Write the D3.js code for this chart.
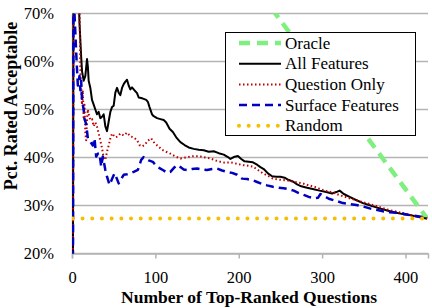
<!DOCTYPE html>
<html>
<head>
<meta charset="utf-8">
<script src="https://cdn.jsdelivr.net/npm/d3@7"></script>
<style>
  body { margin: 0; background: #fff; }
</style>
</head>
<body>
<div id="app"></div>
<script>
const WIDTH = 432;
const HEIGHT = 308;
const FONT = 'Liberation Serif';

// values: [number of questions, pct acceptable]
const oracle = [[0, 100], [116, 100], [426, 27.3]];

const allFeatures = [[1, 0], [2, 100], [7, 86], [8, 74], [9, 68], [11, 61], [12, 58], [14, 56], [16, 57],
  [18, 60.5], [19, 59], [20, 56], [22, 54.5], [24, 52], [26, 51], [28, 50], [30, 49], [32, 49.5],
  [34, 48.2], [36, 48.5], [38, 49], [40, 46.5], [42, 45.5], [44, 47.5], [46, 49.5], [48, 50.5],
  [50, 50.8], [52, 53.5], [54, 54.5], [56, 53.5], [58, 53], [60, 54.5], [62, 55.3], [64, 55.8],
  [66, 56.2], [68, 55], [70, 54.2], [72, 54.6], [75, 54], [78, 53.4], [80, 52.5], [83, 52.4],
  [86, 52.2], [89, 52], [91, 51.6], [93, 50.5], [96, 49], [98, 48.6], [102, 48.2], [106, 48],
  [110, 47.8], [113, 47.3], [117, 46], [121, 45.3], [125, 44.2], [130, 43.2], [135, 42.6],
  [140, 42.1], [146, 41.8], [152, 41.6], [158, 41.5], [164, 41.2], [170, 41.3], [176, 40.9],
  [182, 40.6], [187, 40.1], [190, 39.7], [194, 40.1], [199, 40.3], [203, 39.7], [207, 39.2],
  [212, 39.1], [217, 39], [222, 38.5], [226, 38], [230, 37.6], [235, 36.7], [240, 36.1],
  [245, 36], [250, 36], [255, 35.8], [260, 35.3], [265, 35], [270, 34.4], [275, 34], [282, 33.7],
  [290, 33.4], [297, 33.1], [305, 32.8], [312, 32.5], [317, 32.8], [321, 33.1], [326, 32.4],
  [333, 31.8], [340, 31.2], [349, 30.5], [358, 30], [369, 29.4], [379, 28.9], [389, 28.5],
  [397, 28.2], [405, 28], [413, 27.7], [421, 27.4], [426, 27.3]];

const questionOnly = [[1, 0], [2, 100], [9, 72], [10, 58], [11, 55], [12, 51], [13, 54], [14, 48],
  [15, 51], [16, 45], [17, 43.6], [18, 48], [19, 50], [20, 49], [22, 47.8], [24, 48], [26, 46.5],
  [28, 47.3], [30, 46.4], [32, 45], [34, 43.5], [36, 42], [38, 39.8], [40, 39.5], [42, 41.2],
  [44, 42.5], [46, 44], [48, 45], [50, 44.6], [52, 44.2], [55, 44.4], [58, 45], [62, 44.6],
  [66, 45.2], [70, 44.4], [74, 44.2], [78, 43.6], [81, 42.6], [84, 42.3], [87, 42.6], [91, 43.5],
  [95, 44], [99, 43], [103, 42.4], [108, 41.6], [113, 41.2], [118, 40.8], [124, 40.2], [130, 39.8],
  [136, 40], [142, 40.2], [148, 40.3], [154, 40.2], [160, 40], [166, 39.8], [172, 39.4],
  [178, 39.1], [184, 38.9], [190, 39], [195, 38.8], [200, 38.6], [205, 38.4], [211, 38.3],
  [217, 38.1], [223, 37.4], [229, 36.7], [235, 36.2], [241, 35.6], [247, 35.4], [253, 35.3],
  [259, 35.2], [265, 35], [271, 34.8], [277, 34.6], [284, 34.2], [291, 33.9], [298, 33.4],
  [305, 33], [313, 32.7], [322, 32.1], [333, 31.5], [343, 31], [353, 30.5], [365, 29.9],
  [377, 29.2], [387, 28.8], [397, 28.4], [409, 27.9], [421, 27.5], [426, 27.3]];

const surfaceFeatures = [[1, 0], [2, 100], [3, 70], [5, 62], [7, 55], [9, 57], [10, 54], [11, 56],
  [12, 52], [14, 50], [15, 48], [17, 47], [19, 44], [21, 43.5], [23, 43], [25, 42.5], [27, 44],
  [29, 40.2], [31, 40.8], [33, 40.9], [35, 38.1], [37, 40.2], [40, 37.4], [42, 36], [45, 34.3],
  [48, 35.5], [51, 36.7], [54, 35.5], [56, 34.6], [59, 35.5], [62, 36.4], [66, 36.5], [70, 36.7],
  [74, 37], [79, 37.4], [83, 39.5], [86, 40.1], [89, 39.7], [92, 39.4], [97, 39.1], [101, 38.2],
  [105, 37.8], [110, 37.3], [114, 36.8], [118, 37], [122, 37.8], [126, 38.4], [130, 38],
  [134, 37.5], [138, 37.4], [144, 37.6], [150, 37.7], [156, 37.5], [162, 37.4], [168, 37.6],
  [174, 37.7], [180, 37.3], [186, 37], [192, 36.8], [198, 36.4], [204, 35.6], [210, 35.5],
  [216, 35.3], [222, 34.9], [228, 34.5], [234, 34.2], [241, 33.9], [248, 33.7], [254, 33.6],
  [260, 33.4], [266, 33.1], [272, 32.6], [278, 32.2], [284, 31.8], [290, 31.5], [295, 31.6],
  [298, 32.4], [302, 32], [308, 31.4], [316, 31], [325, 30.5], [333, 30.3], [341, 30.1],
  [349, 29.8], [357, 29.4], [365, 29.1], [373, 28.8], [381, 28.6], [389, 28.5], [397, 28.3],
  [405, 28], [413, 27.8], [421, 27.6], [426, 27.4]];

const random = [[1, 27.3], [426, 27.3]];

const yTicks = [20, 30, 40, 50, 60, 70];
const xTicks = [0, 100, 200, 300, 400];
const seriesNames = ['Oracle', 'All Features', 'Question Only', 'Surface Features', 'Random'];

const styles = [
  { color: '#7ff07f', width: 4.5, dash: '11,7', cap: 'butt' },
  { color: '#000000', width: 2, dash: null, cap: 'butt' },
  { color: '#c00000', width: 2, dash: '1.5,2.5', cap: 'butt' },
  { color: '#0000c0', width: 2.5, dash: '8,5', cap: 'butt' },
  { color: '#f5be00', width: 4, dash: '0,9.7', cap: 'round' }
];

const margin = { left: 72, right: 4, top: 13.5, bottom: 54.5 };

const svg = d3.select('#app')
  .append('svg')
    .attr('width', WIDTH)
    .attr('height', HEIGHT);

const x = d3.scaleLinear()
  .domain([0, 427])
  .range([margin.left, WIDTH - margin.right]);

const y = d3.scaleLinear()
  .domain([20, 70])
  .range([HEIGHT - margin.bottom, margin.top]);

svg.append('clipPath')
  .attr('id', 'plot')
  .append('rect')
    .attr('x', x(0))
    .attr('y', y(70))
    .attr('width', x(427) - x(0))
    .attr('height', y(20) - y(70));

// gridlines
svg.append('g')
  .selectAll('line')
  .data(yTicks)
  .enter()
    .append('line')
    .attr('x1', x(0))
    .attr('x2', x(427))
    .attr('y1', d => y(d))
    .attr('y2', d => y(d))
    .attr('stroke', '#b4b4b4')
    .attr('stroke-width', 1.5);

// y axis
const yAxis = d3.axisLeft(y).tickValues(yTicks).tickFormat(d => d + '%').tickSize(0).tickPadding(18);
svg.append('g')
  .attr('transform', `translate(${x(0)},0)`)
  .call(yAxis)
  .call(g => g.select('.domain').attr('stroke', '#b4b4b4').attr('stroke-width', 1.5))
  .call(g => g.selectAll('text').attr('font-family', FONT).attr('font-size', 16.5).attr('fill', '#000'))
  .attr('font-family', FONT);

// x axis
const xAxis = d3.axisBottom(x).tickValues(xTicks).tickSize(5).tickPadding(13);
svg.append('g')
  .attr('transform', `translate(0,${y(20)})`)
  .call(xAxis)
  .call(g => g.select('.domain').attr('stroke', '#b4b4b4').attr('stroke-width', 1.5))
  .call(g => g.selectAll('.tick line').attr('stroke', '#b4b4b4').attr('stroke-width', 1.5))
  .call(g => g.selectAll('text').attr('font-family', FONT).attr('font-size', 16.5).attr('fill', '#000'))
  .attr('font-family', FONT);

// series
const line = d3.line()
  .x(d => x(d[0]))
  .y(d => y(d[1]));

const seriesData = [oracle, allFeatures, questionOnly, surfaceFeatures, random];

svg.append('g')
  .attr('clip-path', 'url(#plot)')
  .selectAll('path')
  .data(seriesData)
  .enter()
    .append('path')
    .attr('d', line)
    .attr('fill', 'none')
    .attr('stroke', (d, i) => styles[i].color)
    .attr('stroke-width', (d, i) => styles[i].width)
    .attr('stroke-dasharray', (d, i) => styles[i].dash)
    .attr('stroke-linecap', (d, i) => styles[i].cap)
    .attr('stroke-linejoin', 'round');

// axis titles
svg.append('text')
  .attr('x', 249)
  .attr('y', 303)
  .attr('text-anchor', 'middle')
  .attr('font-family', FONT)
  .attr('font-weight', 'bold')
  .attr('font-size', 17.5)
  .text('Number of Top-Ranked Questions');

svg.append('text')
  .attr('transform', `translate(17,106) rotate(-90)`)
  .attr('text-anchor', 'middle')
  .attr('font-family', FONT)
  .attr('font-weight', 'bold')
  .attr('font-size', 18)
  .text('Pct. Rated Acceptable');

// legend
const legend = svg.append('g').attr('transform', 'translate(225.5,32.5)');
legend.append('rect')
  .attr('width', 190)
  .attr('height', 103)
  .attr('fill', '#fff')
  .attr('stroke', '#000')
  .attr('stroke-width', 1);

const rows = legend.selectAll('g.row')
  .data(seriesNames)
  .enter()
    .append('g')
    .attr('class', 'row')
    .attr('transform', (d, i) => `translate(0,${10.5 + i * 20.7})`);

rows.append('line')
  .attr('x1', 13.5)
  .attr('x2', 55.5)
  .attr('stroke', (d, i) => styles[i].color)
  .attr('stroke-width', (d, i) => styles[i].width)
  .attr('stroke-dasharray', (d, i) => styles[i].dash)
  .attr('stroke-linecap', (d, i) => styles[i].cap);

rows.append('text')
  .attr('x', 59.5)
  .attr('y', 5.5)
  .attr('font-family', FONT)
  .attr('font-size', 17)
  .text(d => d);
</script>
</body>
</html>
